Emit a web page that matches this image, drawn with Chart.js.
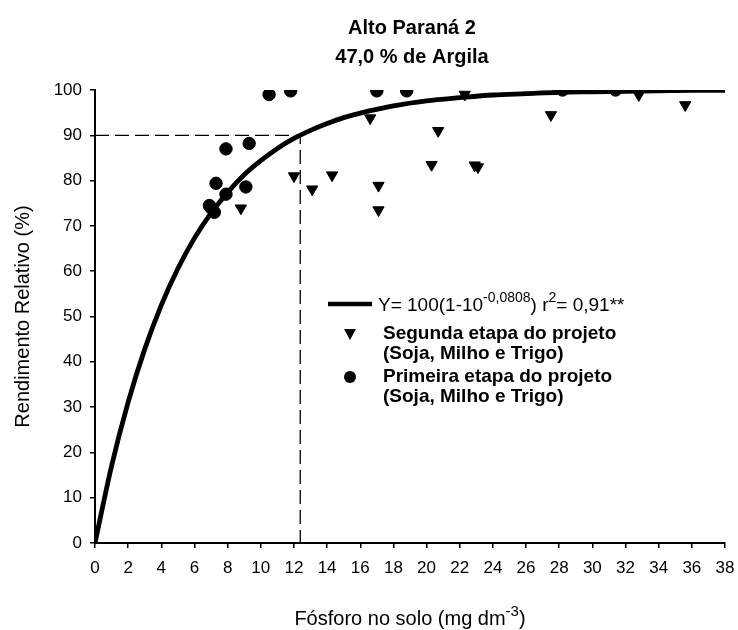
<!DOCTYPE html>
<html>
<head>
<meta charset="utf-8">
<script src="https://cdn.jsdelivr.net/npm/chart.js@4/dist/chart.umd.min.js"></script>
<style>
  html, body { margin: 0; padding: 0; background: #fff; }
</style>
</head>
<body>
<canvas id="chart" width="738" height="630"></canvas>
<script>
/* ------------------------------------------------------------
   Data
------------------------------------------------------------ */
const curveX = [0, 1, 2, 3, 4, 5, 6, 7, 8, 9, 10, 11, 12, 13, 14, 15, 16, 18, 20, 22, 24, 26, 28, 30, 32, 34, 36, 38];
const curveY = [0, 17.0, 31.1, 42.8, 52.5, 60.6, 67.3, 72.8, 77.4, 81.3, 84.4, 87.1, 89.3, 91.1, 92.6, 93.9, 94.9, 96.5, 97.6, 98.3, 98.9, 99.2, 99.5, 99.6, 99.7, 99.8, 99.9, 99.9];

// Segunda etapa (triangles)
const segundaX = [8.8, 12.0, 13.1, 14.3, 16.6, 17.1, 17.1, 20.3, 20.7, 22.3, 22.9, 23.1, 27.5, 32.8, 35.6];
const segundaY = [73.9, 81.0, 78.1, 81.2, 93.8, 78.9, 73.5, 83.5, 91.0, 99.0, 83.4, 83.0, 94.5, 98.9, 96.7];

// Primeira etapa (circles)
const primeiraX = [6.9, 7.0, 7.2, 7.3, 7.9, 7.9, 9.1, 9.3, 10.5, 11.8, 17.0, 18.8, 28.2, 31.4];
const primeiraY = [74.5, 74.0, 73.0, 79.4, 77.0, 87.0, 78.6, 88.2, 99.0, 99.8, 99.8, 99.8, 100, 100];

// dashed guide at 90 %
const guideX = [0, 12.38, 12.38];
const guideY = [90, 90, 0];

const titleLines = ["Alto Paraná 2", "47,0 % de Argila"];
const yTitle = "Rendimento Relativo (%)";

const FONT = '"Liberation Sans", Arial, Helvetica, sans-serif';

function toPoints(xs, ys) {
    return xs.map((x, i) => ({ x: x, y: ys[i] }));
}

/* draws text made of parts, some of them superscript */
function drawRich(ctx, x, y, parts, size, supSize, weight) {
    ctx.textBaseline = "alphabetic";
    ctx.textAlign = "left";
    let cx = x;
    parts.forEach(p => {
        const s = p.sup ? supSize : size;
        ctx.font = weight + " " + s + "px " + FONT;
        ctx.fillText(p.t, cx, p.sup ? y - size * 0.45 : y);
        cx += ctx.measureText(p.t).width;
    });
    return cx - x;
}

function richWidth(ctx, parts, size, supSize, weight) {
    let w = 0;
    parts.forEach(p => {
        const s = p.sup ? supSize : size;
        ctx.font = weight + " " + s + "px " + FONT;
        w += ctx.measureText(p.t).width;
    });
    return w;
}

/* ------------------------------------------------------------
   Texts: title, axis titles and legend
------------------------------------------------------------ */
const textPlugin = {
    id: "texts",
    afterDraw(chart) {
        const ctx = chart.ctx;
        const area = chart.chartArea;
        ctx.save();
        ctx.fillStyle = "#000";

        // title
        ctx.font = "bold 20px " + FONT;
        ctx.textAlign = "center";
        ctx.textBaseline = "middle";
        ctx.fillText(titleLines[0], 412, 28);
        ctx.fillText(titleLines[1], 412, 57);

        // y title
        ctx.save();
        ctx.translate(23, (area.top + area.bottom) / 2);
        ctx.rotate(-Math.PI / 2);
        ctx.font = "20px " + FONT;
        ctx.fillText(yTitle, 0, 0);
        ctx.restore();

        // x title with superscript
        const xParts = [{ t: "Fósforo no solo (mg dm" }, { t: "-3", sup: true }, { t: ")" }];
        const w = richWidth(ctx, xParts, 20, 15, "normal");
        drawRich(ctx, (area.left + area.right) / 2 - w / 2, 625, xParts, 20, 15, "normal");

        // legend
        ctx.strokeStyle = "#000";
        ctx.lineWidth = 4.5;
        ctx.beginPath();
        ctx.moveTo(328, 304);
        ctx.lineTo(372, 304);
        ctx.stroke();
        drawRich(ctx, 378, 311, [
            { t: "Y= 100(1-10" }, { t: "-0,0808", sup: true }, { t: ") r" },
            { t: "2", sup: true }, { t: "= 0,91**" }
        ], 19, 14, "normal");

        // triangle marker
        ctx.beginPath();
        ctx.moveTo(344, 329);
        ctx.lineTo(356, 329);
        ctx.lineTo(350, 340);
        ctx.closePath();
        ctx.fill();
        // circle marker
        ctx.beginPath();
        ctx.arc(350, 377, 6, 0, Math.PI * 2);
        ctx.fill();

        ctx.font = "bold 19px " + FONT;
        ctx.textAlign = "left";
        ctx.textBaseline = "middle";
        ctx.fillText("Segunda etapa do projeto", 383, 334);
        ctx.fillText("(Soja, Milho e Trigo)", 383, 354);
        ctx.fillText("Primeira etapa do projeto", 383, 377);
        ctx.fillText("(Soja, Milho e Trigo)", 383, 397);

        ctx.restore();
    }
};

/* ------------------------------------------------------------
   Chart
------------------------------------------------------------ */
const ctx = document.getElementById("chart");

new Chart(ctx, {
    type: "scatter",
    data: {
        datasets: [
            {
                label: "Primeira etapa do projeto",
                data: toPoints(primeiraX, primeiraY),
                backgroundColor: "#000",
                borderColor: "#000",
                pointStyle: "circle",
                pointRadius: 6.2,
                order: 1
            },
            {
                label: "Segunda etapa do projeto",
                data: toPoints(segundaX, segundaY),
                backgroundColor: "#000",
                borderColor: "#000",
                pointStyle: "triangle",
                rotation: 180,
                pointRadius: 6.5,
                order: 2
            },
            {
                type: "line",
                label: "ajuste",
                data: toPoints(curveX, curveY),
                borderColor: "#000",
                borderWidth: 4.8,
                pointRadius: 0,
                cubicInterpolationMode: "monotone",
                fill: false,
                order: 3
            },
            {
                type: "line",
                label: "90%",
                data: toPoints(guideX, guideY),
                borderColor: "#000",
                borderWidth: 1.3,
                borderDash: [14, 6],
                pointRadius: 0,
                tension: 0,
                fill: false,
                order: 4
            }
        ]
    },
    options: {
        responsive: false,
        animation: false,
        devicePixelRatio: 1,
        layout: { padding: { left: 0, right: 13, top: 90, bottom: 0 } },
        plugins: {
            legend: { display: false },
            tooltip: { enabled: false }
        },
        scales: {
            x: {
                type: "linear",
                min: 0,
                max: 38,
                ticks: {
                    stepSize: 2,
                    color: "#000",
                    font: { family: FONT, size: 17 },
                    padding: 10,
                    maxRotation: 0
                },
                grid: { drawOnChartArea: false, color: "#000", tickLength: 5, lineWidth: 1.5 },
                border: { color: "#000", width: 2 },
                afterFit(scale) {
                    scale.height = 87;
                    scale.paddingLeft = 0;
                    scale.paddingRight = 0;
                }
            },
            y: {
                type: "linear",
                min: 0,
                max: 100,
                ticks: {
                    stepSize: 10,
                    color: "#000",
                    font: { family: FONT, size: 17 },
                    padding: 8
                },
                grid: { drawOnChartArea: false, color: "#000", tickLength: 5, lineWidth: 1.5 },
                border: { color: "#000", width: 2 },
                afterFit(scale) {
                    scale.width = 95;
                    scale.paddingTop = 0;
                    scale.paddingBottom = 0;
                }
            }
        }
    },
    plugins: [textPlugin]
});
</script>
</body>
</html>
